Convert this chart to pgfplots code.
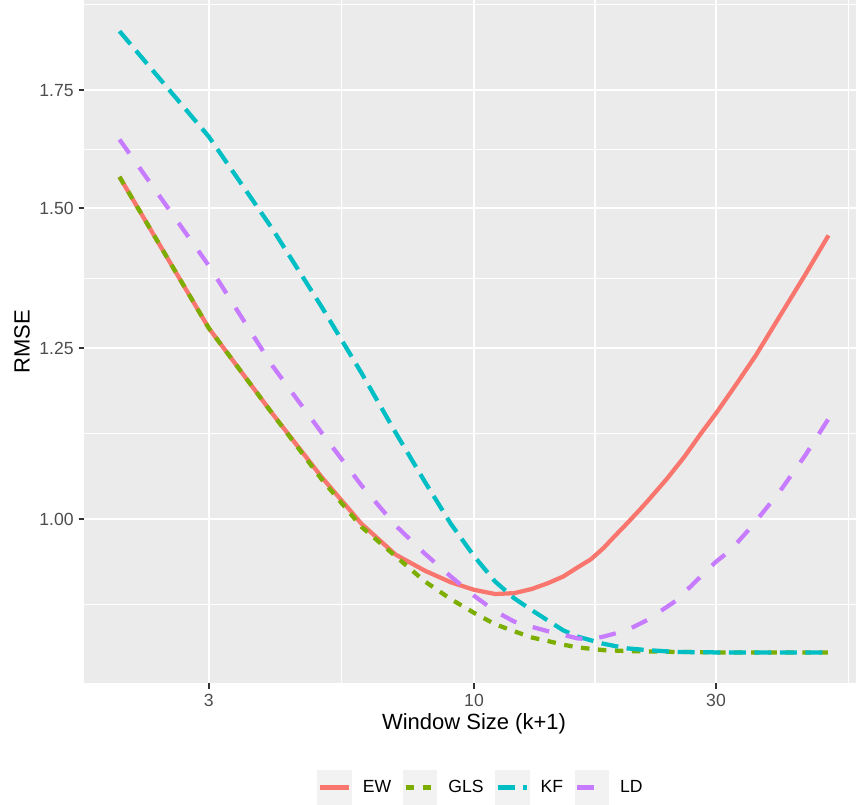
\documentclass[border=0pt]{standalone}
\usepackage{pgfplots}
\pgfplotsset{compat=1.18}
\usepackage{fontspec}
\setmainfont{Liberation Sans}
\definecolor{panelgray}{HTML}{EBEBEB}
\definecolor{keygray}{HTML}{F2F2F2}
\definecolor{gray30}{HTML}{4D4D4D}
\definecolor{gray20}{HTML}{333333}
\definecolor{cEW}{HTML}{F8766D}
\definecolor{cGLS}{HTML}{7CAE00}
\definecolor{cKF}{HTML}{00BFC4}
\definecolor{cLD}{HTML}{C77CFF}
\begin{document}
\begin{tikzpicture}
\begin{axis}[name=ax, scale only axis, width=390pt, height=341.75pt,
  xmode=log, ymode=log,
  xmin=1.7024, xmax=58.74, ymin=0.8071, ymax=1.9685,
  xtick={3,10,30}, xticklabels={3,10,30},
  ytick={1,1.25,1.5,1.75}, yticklabels={1.00,1.25,1.50,1.75},
  minor xtick={1.643,5.477,17.32,54.77},
  minor ytick={0.8944,1.118,1.369,1.620,1.957},
  /pgf/number format/assume math mode=true,
  grid=both,
  major grid style={white, line width=1.07pt},
  minor grid style={white, line width=0.53pt},
  axis background/.style={fill=panelgray},
  axis line style={draw=none},
  tick align=outside, tick pos=left,
  major tick length=2.75pt, minor tick length=0pt,
  major tick style={draw=gray20, line width=1.07pt},
  xticklabel style={font=\fontsize{8.8}{10}\selectfont, text=gray30, inner sep=0pt, yshift=-2.2pt},
  yticklabel style={font=\fontsize{8.8}{10}\selectfont, text=gray30, inner sep=0pt, xshift=-2.2pt},
  xlabel={Window Size (k+1)}, ylabel={RMSE},
  xlabel style={font=\fontsize{11}{13}\selectfont, at={(axis description cs:0.5,-0.0585)}, anchor=center},
  ylabel style={font=\fontsize{11}{13}\selectfont, at={(axis description cs:-0.0795,0.5)}, anchor=center},
  legend columns=4,
  legend style={draw=none, fill=none, at={(axis description cs:0.5,-0.1522)}, anchor=center, xshift=3pt,
    inner sep=0pt, nodes={inner sep=0pt, font=\fontsize{8.8}{10}\selectfont},
    /tikz/every odd column/.append style={column sep=5.5pt},
    /tikz/every even column/.append style={column sep=5.75pt}},
  legend cell align=left,
  legend image code/.code={
    \path[fill=keygray, draw=none] (0pt,-8.64pt) rectangle (17.28pt,8.64pt);
    \draw[#1] (1.4pt,0pt) -- (15.88pt,0pt);
  },
  every axis plot/.append style={line width=2.13pt, line join=round, line cap=butt},
]
\addplot[cEW, solid] table {
2 1.563
3 1.283
4 1.148
5 1.057
6 0.994
7 0.955
8 0.935
9 0.921
10 0.912
11 0.907
12 0.908
13 0.913
14 0.920
15 0.928
16 0.939
17 0.949
18 0.963
19 0.979
20 0.994
21 1.009
22 1.024
24 1.054
26 1.085
28 1.118
30 1.148
33 1.194
36 1.239
40 1.302
45 1.376
50 1.448
};
\addlegendentry{EW}
\addplot[cGLS, dash pattern=on 4.26pt off 4.26pt] table {
2 1.563
3 1.283
4 1.148
5 1.054
6 0.990
7 0.953
8 0.922
9 0.901
10 0.885
11 0.872
12 0.864
13 0.857
14 0.853
15 0.849
16 0.846
18 0.843
20 0.842
25 0.841
30 0.8405
40 0.8405
50 0.8405
};
\addlegendentry{GLS}
\addplot[cKF, dash pattern=on 8.52pt off 4.26pt] table {
2 1.890
3 1.647
4 1.461
5 1.320
6 1.210
7 1.120
8 1.050
9 0.994
10 0.953
11 0.922
12 0.902
13 0.888
14 0.876
15 0.865
16 0.858
18 0.850
20 0.845
22 0.843
25 0.841
30 0.8405
40 0.8405
50 0.8405
};
\addlegendentry{KF}
\addplot[cLD, dash pattern=on 8.52pt off 8.52pt] table {
2 1.641
3 1.392
4 1.222
5 1.120
6 1.045
7 0.992
8 0.956
9 0.928
10 0.905
11 0.887
12 0.875
13 0.869
14 0.864
15 0.860
16 0.856
17 0.855
18 0.858
20 0.865
22 0.877
25 0.899
28 0.928
30 0.946
32 0.960
35 0.988
40 1.036
45 1.087
50 1.140
};
\addlegendentry{LD}
\end{axis}
\pgfresetboundingbox
\path[use as bounding box] ([xshift=-42pt,yshift=-60.75pt]ax.south west) rectangle ([xshift=-4pt]ax.north east);
\end{tikzpicture}
\end{document}
